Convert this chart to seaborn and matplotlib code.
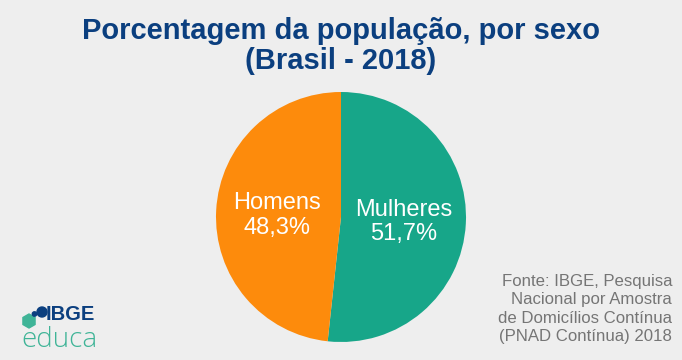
import matplotlib
matplotlib.use("Agg")
import matplotlib.pyplot as plt
import seaborn as sns
from matplotlib.patches import RegularPolygon, Circle

categories = ["Mulheres", "Homens"]
values = [51.7, 48.3]
colors = ["#17a689", "#fd8b0c"]

title_text = "Porcentagem da população, por sexo\n(Brasil - 2018)"
source_text = "Fonte: IBGE, Pesquisa\nNacional por Amostra\nde Domicílios Contínua\n(PNAD Contínua) 2018"

sns.set_theme(style="white")
plt.rcParams["font.family"] = ["Liberation Sans", "DejaVu Sans"]

bg = "#eeeeee"
fig = plt.figure(figsize=(6.82, 3.6), dpi=100)
fig.patch.set_facecolor(bg)

ax = fig.add_axes([(341 - 125) / 682, (360 - 342) / 360, 250 / 682, 250 / 360])
ax.set_facecolor(bg)

labels_iter = iter(categories)


def fmt(p):
    name = next(labels_iter)
    return f"{name}\n{p:.1f}%".replace(".", ",")


wedges, texts, autotexts = ax.pie(
    values,
    colors=colors,
    startangle=90,
    counterclock=False,
    autopct=fmt,
    pctdistance=0.5,
    radius=1.0,
    wedgeprops=dict(linewidth=0),
    textprops=dict(color="white", fontsize=17, linespacing=1.15),
)
for t in autotexts:
    t.set_ha("center")
    t.set_va("center")
autotexts[0].set_position((0.5, -0.04))
autotexts[1].set_position((-0.51, 0.01))
ax.set_xlim(-1, 1)
ax.set_ylim(-1, 1)
ax.set_aspect("equal")
ax.axis("off")

fig.text(0.5, 1 - 46 / 360, title_text, ha="center", va="center",
         fontsize=21, fontweight="bold", color="#0b3f7f", linespacing=1.1)

fig.text(672 / 682, 1 - 309 / 360, source_text, ha="right", va="center",
         fontsize=12.1, color="#757575", linespacing=1.3)

# logo
lax = fig.add_axes([0, 0, 1, 1], facecolor="none")
lax.set_xlim(0, 682)
lax.set_ylim(360, 0)
lax.axis("off")
lax.add_patch(RegularPolygon((29, 321), 6, radius=7, color="#3fb497"))
lax.add_patch(Circle((34.5, 314), 2.2, color="#0b3f7f"))
lax.add_patch(Circle((42, 312), 5, color="#0b3f7f"))
lax.text(46, 315, "IBGE", fontsize=14.5, fontweight="bold", color="#0b3f7f",
         ha="left", va="center")
lax.text(59, 340, "educa", fontsize=20, color="#3fb497", ha="center",
         va="center", family=["Open Sans", "DejaVu Sans"], fontweight="light")

fig.savefig("out.png", dpi=100, facecolor=bg)
